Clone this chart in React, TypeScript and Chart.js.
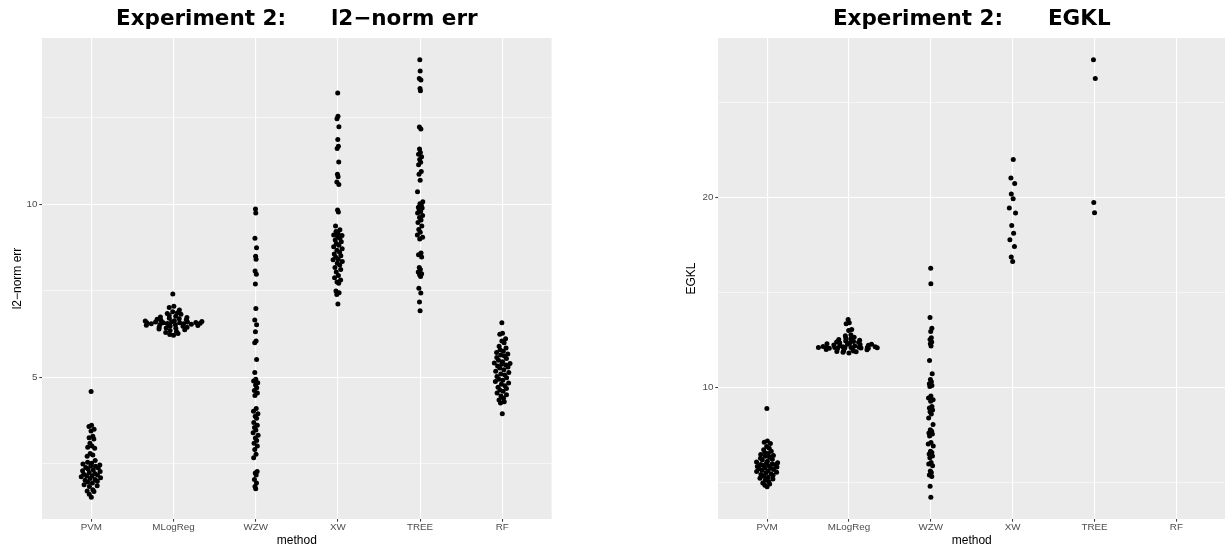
import React, { useEffect, useRef } from "react";
import { Chart, registerables } from "chart.js";

Chart.register(...registerables);
Chart.defaults.font.family = "'Liberation Sans', Arial, Helvetica, sans-serif";

// ---------- categories ----------
const methods = ["PVM", "MLogReg", "WZW", "XW", "TREE", "RF"];

// ---------- left panel: l2-norm err ----------
const l2Title = "Experiment 2:      l2\u2212norm err";
const l2AxisTitle = "l2\u2212norm err";
const l2PVM = [4.59, 3.62, 3.58, 3.5, 3.45, 3.3, 3.26, 3.22, 3.1, 3.02, 2.98, 2.95, 2.8, 2.76, 2.72, 2.6, 2.55, 2.52, 2.5, 2.47, 2.45, 2.43, 2.4, 2.38, 2.35, 2.33, 2.3, 2.28, 2.25, 2.22, 2.2, 2.18, 2.16, 2.15, 2.13, 2.1, 2.08, 2.05, 2.03, 2.0, 1.98, 1.95, 1.9, 1.87, 1.85, 1.75, 1.72, 1.7, 1.62, 1.54];
const l2MLogReg = [7.41, 7.06, 7.02, 6.95, 6.9, 6.87, 6.85, 6.83, 6.8, 6.77, 6.75, 6.73, 6.71, 6.7, 6.68, 6.67, 6.65, 6.64, 6.63, 6.62, 6.61, 6.6, 6.6, 6.59, 6.58, 6.58, 6.57, 6.56, 6.55, 6.55, 6.54, 6.53, 6.52, 6.51, 6.5, 6.49, 6.48, 6.46, 6.45, 6.43, 6.42, 6.4, 6.38, 6.36, 6.33, 6.3, 6.27, 6.24, 6.22, 6.58];
const l2WZW = [9.87, 9.75, 9.02, 8.75, 8.5, 8.42, 8.08, 7.98, 7.7, 6.99, 6.66, 6.52, 6.32, 6.05, 6.0, 5.52, 5.14, 4.95, 4.9, 4.85, 4.78, 4.7, 4.62, 4.55, 4.48, 4.1, 4.02, 3.95, 3.88, 3.82, 3.62, 3.55, 3.48, 3.4, 3.33, 3.25, 3.18, 3.1, 3.02, 2.92, 2.78, 2.68, 2.28, 2.24, 2.18, 2.05, 1.95, 1.85, 1.78, 3.7];
const l2XW = [13.22, 12.55, 12.48, 12.25, 11.88, 11.68, 11.62, 11.23, 10.87, 10.8, 10.65, 10.58, 9.84, 9.78, 9.38, 9.27, 9.22, 9.16, 9.12, 9.06, 9.02, 8.97, 8.92, 8.87, 8.82, 8.78, 8.72, 8.68, 8.62, 8.57, 8.52, 8.48, 8.42, 8.35, 8.3, 8.25, 8.18, 8.12, 7.95, 7.88, 7.82, 7.76, 7.72, 7.5, 7.45, 7.4, 7.12, 8.05, 8.4, 9.1];
const l2TREE = [14.18, 13.86, 13.64, 13.6, 13.35, 13.29, 12.24, 12.18, 11.6, 11.45, 11.38, 11.3, 11.22, 11.15, 10.87, 10.7, 10.37, 10.08, 10.02, 9.97, 9.92, 9.86, 9.8, 9.75, 9.68, 9.62, 9.55, 9.48, 9.28, 9.2, 9.12, 9.05, 9.0, 8.6, 8.55, 8.48, 8.18, 8.12, 8.05, 7.97, 7.92, 7.58, 7.44, 7.18, 6.93, 9.9, 9.38, 8.0, 11.5, 10.95];
const l2RF = [6.58, 6.28, 6.25, 6.12, 6.05, 6.0, 5.9, 5.85, 5.8, 5.76, 5.72, 5.68, 5.65, 5.62, 5.58, 5.55, 5.5, 5.45, 5.42, 5.38, 5.36, 5.33, 5.3, 5.27, 5.22, 5.18, 5.14, 5.1, 5.07, 5.03, 4.99, 4.95, 4.92, 4.88, 4.84, 4.8, 4.76, 4.72, 4.68, 4.64, 4.6, 4.55, 4.5, 4.46, 4.4, 4.35, 4.3, 4.26, 3.95, 5.4];
const l2MajorTicks = [5, 10];
const l2MinorTicks = [2.5, 7.5, 12.5];

// ---------- right panel: EGKL ----------
const egTitle = "Experiment 2:      EGKL";
const egAxisTitle = "EGKL";
const egPVM = [8.9, 7.18, 7.12, 7.05, 6.9, 6.8, 6.72, 6.65, 6.58, 6.52, 6.48, 6.42, 6.38, 6.33, 6.28, 6.22, 6.18, 6.12, 6.08, 6.04, 6.0, 5.97, 5.94, 5.9, 5.87, 5.84, 5.81, 5.78, 5.75, 5.72, 5.68, 5.65, 5.62, 5.58, 5.54, 5.5, 5.46, 5.42, 5.38, 5.33, 5.28, 5.23, 5.18, 5.12, 5.05, 4.98, 4.92, 4.85, 4.78, 5.95];
const egMLogReg = [13.58, 13.4, 13.35, 13.05, 13.0, 12.78, 12.72, 12.65, 12.6, 12.55, 12.52, 12.48, 12.45, 12.42, 12.4, 12.38, 12.35, 12.33, 12.3, 12.28, 12.28, 12.26, 12.24, 12.22, 12.2, 12.18, 12.16, 12.15, 12.14, 12.12, 12.12, 12.11, 12.1, 12.1, 12.1, 12.09, 12.09, 12.08, 12.07, 12.06, 12.05, 12.03, 12.0, 11.98, 11.95, 11.92, 11.9, 11.88, 11.85, 11.82];
const egWZW = [16.28, 15.46, 13.68, 13.12, 12.95, 12.62, 12.52, 12.4, 12.3, 12.18, 11.42, 10.72, 10.42, 10.3, 10.2, 10.1, 10.05, 9.55, 9.45, 9.35, 9.28, 9.0, 8.92, 8.82, 8.72, 8.6, 8.4, 8.05, 7.78, 7.7, 7.6, 7.45, 7.1, 7.02, 6.92, 6.65, 6.58, 6.5, 6.4, 6.05, 5.98, 5.88, 5.6, 5.52, 5.4, 5.32, 4.8, 4.23, 6.3, 7.55];
const egXW = [22.0, 21.02, 20.74, 20.18, 19.93, 19.44, 19.18, 18.53, 18.11, 17.77, 17.42, 16.86, 16.63];
const egTREE = [27.24, 26.26, 19.74, 19.19];
const egRF: number[] = [];
const egMajorTicks = [10, 20];
const egMinorTicks = [5, 15, 25];

// ---------- quasirandom (van der Corput x density) layout, as ggbeeswarm ----------
function radicalInverse(i: number): number {
  let r = 0;
  let f = 0.5;
  while (i > 0) {
    r += (i & 1) * f;
    i >>= 1;
    f /= 2;
  }
  return r;
}

function quantile7(sorted: number[], p: number): number {
  const h = (sorted.length - 1) * p;
  const lo = Math.floor(h);
  const hi = Math.min(lo + 1, sorted.length - 1);
  return sorted[lo] + (h - lo) * (sorted[hi] - sorted[lo]);
}

function bandwidth(v: number[]): number {
  const n = v.length;
  const mean = v.reduce((a, b) => a + b, 0) / n;
  const sd = Math.sqrt(v.reduce((a, b) => a + (b - mean) ** 2, 0) / (n - 1));
  const s = [...v].sort((a, b) => a - b);
  const iqr = quantile7(s, 0.75) - quantile7(s, 0.25);
  let lo = Math.min(sd, iqr / 1.34);
  if (!(lo > 0)) lo = sd || Math.abs(s[0]) || 1;
  return 0.9 * lo * Math.pow(n, -0.2);
}

function quasirandomOffsets(groups: number[][], width = 0.4): number[][] {
  const kdes = groups.map((g) => {
    if (g.length < 2) return null;
    const bw = bandwidth(g);
    const f = (y: number) => {
      let s = 0;
      for (const v of g) {
        const z = (y - v) / bw;
        s += Math.exp(-0.5 * z * z);
      }
      return s / (g.length * bw * Math.sqrt(2 * Math.PI));
    };
    return { f, bw, min: Math.min(...g), max: Math.max(...g) };
  });
  let maxD = 0;
  kdes.forEach((k) => {
    if (!k) return;
    const lo = k.min - 3 * k.bw;
    const hi = k.max + 3 * k.bw;
    for (let i = 0; i < 512; i++) {
      const y = lo + ((hi - lo) * i) / 511;
      maxD = Math.max(maxD, k.f(y));
    }
  });
  return groups.map((g, gi) => {
    const k = kdes[gi];
    if (!k || maxD === 0) return g.map(() => 0);
    const order = g.map((_, i) => i).sort((a, b) => g[a] - g[b] || a - b);
    const rank: number[] = new Array(g.length);
    order.forEach((idx, r) => (rank[idx] = r + 1));
    return g.map((v, i) => (radicalInverse(rank[i]) - 0.5) * 2 * (k.f(v) / maxD) * width);
  });
}

// ---------- chart builder ----------
const panelBackground = {
  id: "panelBackground",
  beforeDraw(chart: any) {
    const { ctx, chartArea: a } = chart;
    ctx.save();
    ctx.fillStyle = "#EBEBEB";
    ctx.fillRect(a.left, a.top, a.right - a.left, a.bottom - a.top);
    ctx.restore();
  },
};

interface PanelSpec {
  title: string;
  yTitle: string;
  groups: number[][];
  major: number[];
  minor: number[];
  yAxisWidth: number;
  yTitlePad: number;
  padRight: number;
}

const tickFont = { family: "'Liberation Sans', Arial, sans-serif", size: 9.8 };
const axisTitleFont = { family: "'Liberation Sans', Arial, sans-serif", size: 12 };

function makeConfig(p: PanelSpec): any {
  const offsets = quasirandomOffsets(p.groups);
  const points: { x: number; y: number }[] = [];
  p.groups.forEach((g, gi) => g.forEach((v, i) => points.push({ x: gi + offsets[gi][i], y: v })));
  const all = p.groups.flat();
  const lo = Math.min(...all);
  const hi = Math.max(...all);
  const span = hi - lo;
  const majorSet = new Set(p.major);
  const yTicks = [...p.major, ...p.minor].sort((a, b) => a - b);
  const isMajor = (ctx: any) => !!ctx.tick && majorSet.has(ctx.tick.value);

  return {
    type: "scatter",
    data: {
      datasets: [
        {
          data: points,
          pointRadius: 2.5,
          pointHoverRadius: 2.5,
          pointBackgroundColor: "#000000",
          pointBorderWidth: 0,
          backgroundColor: "#000000",
          borderWidth: 0,
        },
      ],
    },
    options: {
      responsive: false,
      animation: false,
      events: [],
      layout: { padding: { left: 0, top: 0, right: p.padRight, bottom: 0 } },
      plugins: {
        legend: { display: false },
        tooltip: { enabled: false },
        title: {
          display: true,
          text: p.title,
          fullSize: false,
          color: "#000000",
          font: { family: "'DejaVu Sans', sans-serif", size: 21.5, weight: "bold", lineHeight: 1.2 },
          padding: { top: 6.5, bottom: 5.7 },
        },
      },
      scales: {
        x: {
          type: "linear",
          min: -0.6,
          max: methods.length - 0.4,
          afterBuildTicks: (s: any) => {
            s.ticks = methods.map((_, i) => ({ value: i }));
          },
          afterFit: (s: any) => {
            s.height = 33;
            s.paddingLeft = 0;
            s.paddingRight = 0;
          },
          ticks: {
            callback: (v: any) => methods[Math.round(Number(v))] ?? "",
            autoSkip: false,
            maxRotation: 0,
            minRotation: 0,
            padding: 0,
            color: "#4D4D4D",
            font: tickFont,
          },
          grid: { color: "#FFFFFF", lineWidth: 1.1, tickColor: "#333333", tickLength: 2.7, tickWidth: 1 },
          border: { display: false },
          title: {
            display: true,
            text: "method",
            color: "#000000",
            font: axisTitleFont,
            padding: { top: 0, bottom: 4 },
          },
        },
        y: {
          type: "linear",
          min: lo - 0.05 * span,
          max: hi + 0.05 * span,
          afterBuildTicks: (s: any) => {
            s.ticks = yTicks.map((v) => ({ value: v }));
          },
          afterFit: (s: any) => {
            s.width = p.yAxisWidth;
            s.paddingTop = 0;
            s.paddingBottom = 0;
          },
          ticks: {
            callback: (v: any) => (majorSet.has(Number(v)) ? String(v) : ""),
            autoSkip: false,
            padding: 1.8,
            color: "#4D4D4D",
            font: tickFont,
          },
          grid: {
            color: "#FFFFFF",
            lineWidth: (ctx: any) => (isMajor(ctx) ? 1.1 : 0.55),
            tickColor: (ctx: any) => (isMajor(ctx) ? "#333333" : "rgba(0,0,0,0)"),
            tickLength: 2.7,
            tickWidth: 1,
          },
          border: { display: false },
          title: {
            display: true,
            text: p.yTitle,
            color: "#000000",
            font: axisTitleFont,
            padding: { top: p.yTitlePad, bottom: 0 },
          },
        },
      },
    },
    plugins: [panelBackground],
  };
}

const leftPanel: PanelSpec = {
  title: l2Title,
  yTitle: l2AxisTitle,
  groups: [l2PVM, l2MLogReg, l2WZW, l2XW, l2TREE, l2RF],
  major: l2MajorTicks,
  minor: l2MinorTicks,
  yAxisWidth: 42,
  yTitlePad: 10.3,
  padRight: 60.4,
};

const rightPanel: PanelSpec = {
  title: egTitle,
  yTitle: egAxisTitle,
  groups: [egPVM, egMLogReg, egWZW, egXW, egTREE, egRF],
  major: egMajorTicks,
  minor: egMinorTicks,
  yAxisWidth: 106,
  yTitlePad: 72.6,
  padRight: 0,
};

export default function App() {
  const leftRef = useRef<HTMLCanvasElement>(null);
  const rightRef = useRef<HTMLCanvasElement>(null);

  useEffect(() => {
    const c1 = new Chart(leftRef.current as HTMLCanvasElement, makeConfig(leftPanel));
    const c2 = new Chart(rightRef.current as HTMLCanvasElement, makeConfig(rightPanel));
    return () => {
      c1.destroy();
      c2.destroy();
    };
  }, []);

  return (
    <div
      style={{
        position: "absolute",
        left: 0,
        top: 0,
        width: 1225,
        height: 552,
        overflow: "hidden",
        background: "#ffffff",
      }}
    >
      <canvas ref={leftRef} width={612} height={552} style={{ position: "absolute", left: 0, top: 0 }} />
      <canvas ref={rightRef} width={616} height={552} style={{ position: "absolute", left: 612, top: 0 }} />
    </div>
  );
}
